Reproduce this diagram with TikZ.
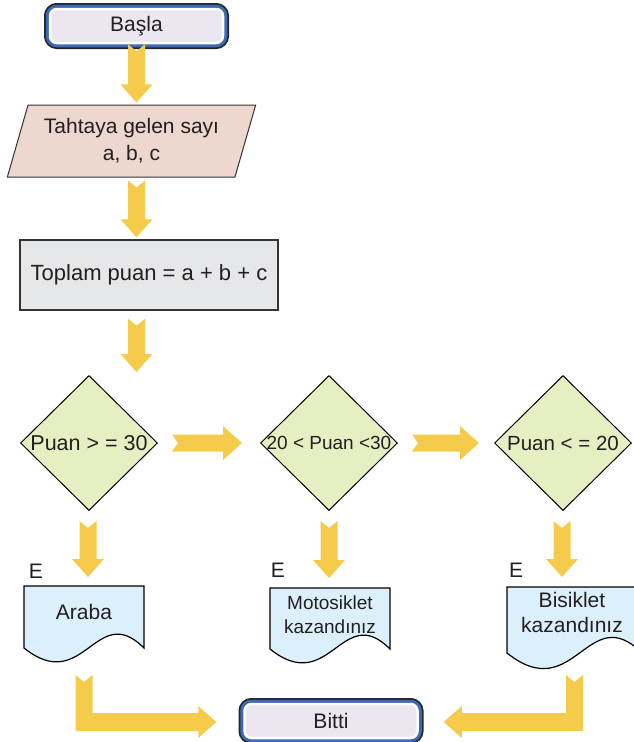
\documentclass[tikz,border=0pt]{standalone}
\usepackage{fontspec}
\setmainfont{Liberation Sans}
\usetikzlibrary{shapes.geometric}
\usetikzlibrary{calc}
\usetikzlibrary{backgrounds}
\usepackage{xcolor}

\definecolor{arrowyellow}{HTML}{F5CB4B}
\definecolor{termblue}{HTML}{3C6AB3}
\definecolor{termfill}{HTML}{ECE6F1}
\definecolor{inputfill}{HTML}{EDD7CF}
\definecolor{procfill}{HTML}{E6E7E8}
\definecolor{decfill}{HTML}{E5EFC2}
\definecolor{docfill}{HTML}{DCF0FB}
\definecolor{textgray}{HTML}{231F20}

\begin{document}
\begin{tikzpicture}
	[x=1pt,y=-1pt,line width=1pt,
	font=\fontsize{21}{27}\selectfont, text=textgray,
	terminal/.style = {
		rounded corners=7pt, minimum width=173pt, minimum height=34pt,
		fill=termfill, draw=white, line width=2.5pt,
		preaction={draw=black!85, line width=12pt},
		preaction={draw=termblue, line width=8.5pt}
	},
	inbox/.style = {
		trapezium, trapezium left angle=68.7, trapezium right angle=111.3,
		trapezium stretches=true, minimum width=249pt, minimum height=72pt,
		draw=black!80, fill=inputfill, align=center, inner sep=0pt
	},
	procbox/.style = {
		draw=black!80, line width=1.5pt, fill=procfill,
		minimum width=258pt, minimum height=70pt
	},
	decision/.style = {
		diamond, draw, fill=decfill, inner sep=0pt,
		minimum width=137pt, minimum height=135pt
	},
	doctext/.style = {
		inner sep=0pt, align=center
	},
	docline/.style = {
		draw, line width=1.2pt, fill=docfill
	},
	downarrow/.style = {
		fill=arrowyellow, to path={
			let \p1=(\tikztostart), \p2=(\tikztotarget) in
			(\x1-8.5pt,\y1) -- (\x1,\y1-7pt) -- (\x1+8.5pt,\y1)
			-- (\x1+8.5pt,\y2+18pt) -- (\x1+16pt,\y2+18pt) -- (\x1,\y2)
			-- (\x1-16pt,\y2+18pt) -- (\x1-8.5pt,\y2+18pt) -- cycle}
	},
	rightarrow/.style = {
		fill=arrowyellow, to path={
			let \p1=(\tikztostart), \p2=(\tikztotarget) in
			(\x1,\y1+8.5pt) -- (\x1+6pt,\y1) -- (\x1,\y1-8.5pt)
			-- (\x2-19pt,\y1-8.5pt) -- (\x2-19pt,\y1-17pt) -- (\x2,\y1)
			-- (\x2-19pt,\y1+17pt) -- (\x2-19pt,\y1+8.5pt) -- cycle}
	},
	elbowright/.style = {
		fill=arrowyellow, to path={
			let \p1=(\tikztostart), \p2=(\tikztotarget) in
			(\x1-8.5pt,\y1) -- (\x1,\y1-7pt) -- (\x1+8.5pt,\y1)
			-- (\x1+8.5pt,\y2+9pt) -- (\x2-18pt,\y2+9pt) -- (\x2-18pt,\y2+16pt)
			-- (\x2,\y2) -- (\x2-18pt,\y2-16pt) -- (\x2-18pt,\y2-9pt)
			-- (\x1-8.5pt,\y2-9pt) -- cycle}
	},
	elbowleft/.style = {
		fill=arrowyellow, to path={
			let \p1=(\tikztostart), \p2=(\tikztotarget) in
			(\x1+8.5pt,\y1) -- (\x1,\y1-7pt) -- (\x1-8.5pt,\y1)
			-- (\x1-8.5pt,\y2+9pt) -- (\x2+18pt,\y2+9pt) -- (\x2+18pt,\y2+16pt)
			-- (\x2,\y2) -- (\x2+18pt,\y2-16pt) -- (\x2+18pt,\y2-9pt)
			-- (\x1+8.5pt,\y2-9pt) -- cycle}
	}]
	\useasboundingbox (0,0) rectangle (633,742);

	%Draw nodes
	\node[terminal] at (136.5,26) (basla) {Başla};
	\node[inbox] at (131.5,141) (input) {Tahtaya gelen sayı\\a, b, c};
	\node[procbox, font=\fontsize{22}{26}\selectfont] at (149,275) (total) {Toplam puan = a + b + c};
	\node[decision, label={[font=\fontsize{21.5}{24}\selectfont]center:Puan > = 30}] at (89,443) (d1) {};
	\node[decision, label={[font=\fontsize{19}{22}\selectfont]center:20 < Puan <30}] at (329,443) (d2) {};
	\node[decision, label={[font=\fontsize{20.5}{24}\selectfont]center:Puan < = 20}] at (563,443) (d3) {};
	\node at (36,571) (e1) {E};
	\node at (278,570) (e2) {E};
	\node at (516,570) (e3) {E};
	\node[doctext] at (84,612) (doc1) {Araba};
	\node[doctext, font=\fontsize{19}{24}\selectfont] at (330,615) (doc2) {Motosiklet\\kazandınız};
	\node[doctext, font=\fontsize{21}{25}\selectfont] at (572,612.5) (doc3) {Bisiklet\\kazandınız};
	\node[terminal] at (331,721) (bitti) {Bitti};
	\coordinate (doc1top) at (84,586);
	\coordinate (doc2top) at (330,588);
	\coordinate (doc3top) at (574.5,587);

	%Draw document outlines (width/side height)
	\begin{scope}[on background layer]
	\foreach \c/\w/\h in {doc1top/120/62,doc2top/120/61,doc3top/135/66} {
		\path[docline] ($(\c)+(-\w/2,0)$) -- ($(\c)+(-\w/2,\h)$)
		.. controls ($(\c)+(0,\h+0.4*\w)$) and ($(\c)+(0.1*\w,\h-0.4*\w)$)
		.. ($(\c)+(\w/2,\h)$) -- ($(\c)+(\w/2,0)$) -- cycle;
	}
	\end{scope}

	%Draw arrows
	\path[downarrow] (basla.south) to ($(input.north -| basla.south)+(0,-2)$);
	\path[downarrow] ($(input.south -| basla.south)+(0,3)$) to ($(total.north -| basla.south)+(0,-2)$);
	\path[downarrow] ($(total.south -| basla.south)+(0,8)$) to ($(d1.north -| basla.south)+(0,-3)$);
	\path[rightarrow] ($(d1.east)+(14,0)$) to ($(d2.west)+(-18,0)$);
	\path[rightarrow] ($(d2.east)+(14,0)$) to ($(d3.west)+(-15,0)$);
	\path[downarrow] ($(d1.south)+(-1,10)$) to ($(d1.south |- doc1top)+(0,-9)$);
	\path[downarrow] ($(d2.south)+(0,10)$) to ($(d2.south |- doc2top)+(0,-10)$);
	\path[downarrow] ($(d3.south)+(-1,10)$) to ($(d3.south |- doc3top)+(0,-10)$);
	\path[elbowright] ($(doc1top)+(0,89)$) to ($(bitti.west)+(-27,1)$);
	\path[elbowleft] ($(doc3top)+(0,88)$) to ($(bitti.east)+(25,1)$);
\end{tikzpicture}
\end{document}
